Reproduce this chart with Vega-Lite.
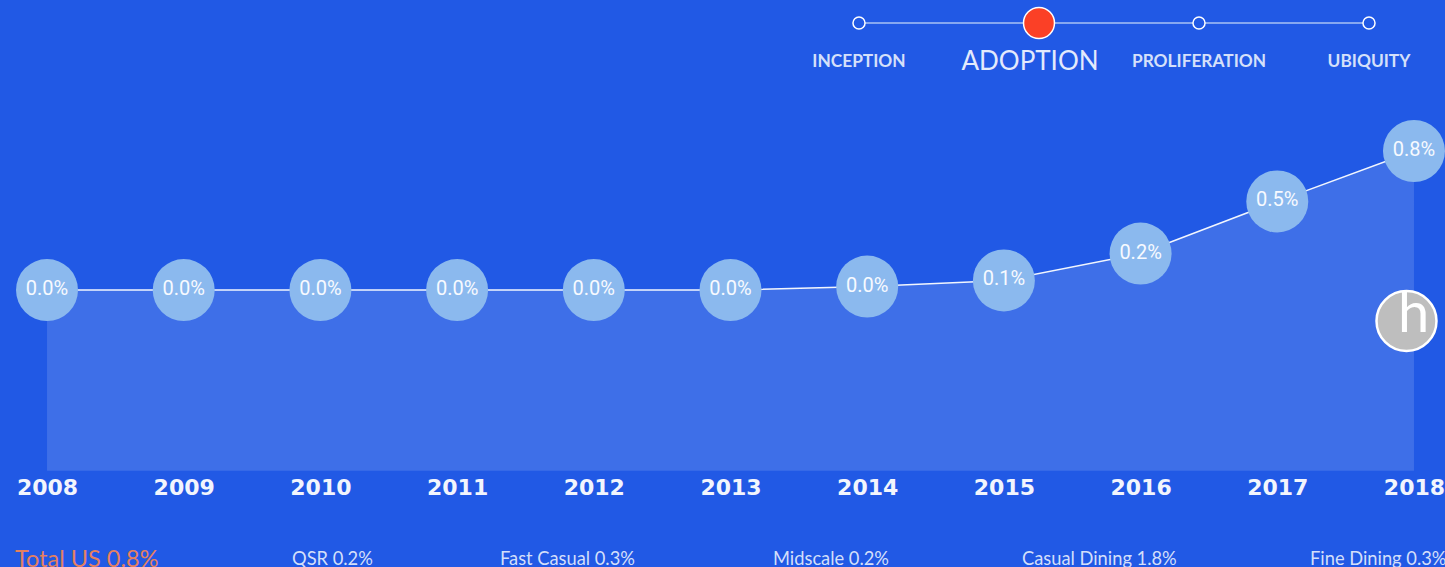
{
"$schema":"https://vega.github.io/schema/vega-lite/v6.json",
"width":1445,"height":567,"padding":0,"autosize":{"type":"none"},
"background":"#2159E5",
"config":{"view":{"stroke":null}},
"datasets":{
"series":[
{"year":2008,"share":0,"label":"0.0%"},{"year":2009,"share":0,"label":"0.0%"},{"year":2010,"share":0,"label":"0.0%"},{"year":2011,"share":0,"label":"0.0%"},{"year":2012,"share":0,"label":"0.0%"},{"year":2013,"share":0,"label":"0.0%"},{"year":2014,"share":0.02,"label":"0.0%"},{"year":2015,"share":0.055,"label":"0.1%"},{"year":2016,"share":0.21,"label":"0.2%"},{"year":2017,"share":0.51,"label":"0.5%"},{"year":2018,"share":0.8,"label":"0.8%"}],
"stages":[{"order":1,"stage":"INCEPTION","state":"other"},{"order":2,"stage":"ADOPTION","state":"current"},{"order":3,"stage":"PROLIFERATION","state":"other"},{"order":4,"stage":"UBIQUITY","state":"other"}],
"segments":[{"order":1,"segment":"Total US 0.8%","kind":"total"},{"order":2,"segment":"QSR 0.2%","kind":"part"},{"order":3,"segment":"Fast Casual 0.3%","kind":"part"},{"order":4,"segment":"Midscale 0.2%","kind":"part"},{"order":5,"segment":"Casual Dining 1.8%","kind":"part"},{"order":6,"segment":"Fine Dining 0.3%","kind":"part"}],
"logo":[{"order":0,"brand":"h"}]
},
"resolve":{"scale":{"x":"independent","y":"independent"}},
"layer":[
{"data":{"name":"series"},
 "encoding":{
  "x":{"field":"year","type":"quantitative","scale":{"domain":[2007.656,2018.227],"nice":false,"zero":false},
   "axis":{"orient":"bottom","offset":-96,"values":[2008,2009,2010,2011,2012,2013,2014,2015,2016,2017,2018],"format":"d","title":null,"domain":false,"ticks":false,"grid":false,"labelFont":"DejaVu Sans","labelFontWeight":"bold","labelFontSize":22,"labelColor":"#F2F5FD","labelPadding":6,"labelFlush":false,"labelOverlap":false,"labelBound":false}},
  "y":{"field":"share","type":"quantitative","scale":{"domain":[-1.594,1.669],"nice":false,"zero":false},"axis":null}
 },
 "layer":[
  {"mark":{"type":"area","color":"#FFFFFF","opacity":0.135},"encoding":{"y2":{"datum":-1.04}}},
  {"mark":{"type":"line","color":"#F2F6FE","strokeWidth":1.5}},
  {"mark":{"type":"point","filled":true,"color":"#8BB9EE","opacity":1,"size":3844}},
  {"mark":{"type":"text","font":"Roboto","fontSize":20,"color":"#F7FAFF","baseline":"middle","dy":-1},"encoding":{"text":{"field":"label"}}}
 ]},
{"data":{"name":"stages"},
 "encoding":{
  "x":{"field":"order","type":"quantitative","scale":{"domain":[1,2,3,4],"range":[859,1039,1199,1369],"zero":false,"nice":false},"axis":null},
  "y":{"datum":0,"type":"quantitative","scale":{"domain":[0,1],"range":[23,61],"zero":false,"nice":false},"axis":null}
 },
 "layer":[
  {"mark":{"type":"line","color":"#A9C3F4","strokeWidth":1.5}},
  {"transform":[{"filter":"datum.state==='other'"}],"mark":{"type":"point","filled":true,"fill":"#2159E5","stroke":"#FFFFFF","strokeWidth":1.5,"opacity":1,"size":145}},
  {"transform":[{"filter":"datum.state==='current'"}],"mark":{"type":"point","filled":true,"fill":"#FB4026","stroke":"#FFFFFF","strokeWidth":1.5,"opacity":1,"size":960}},
  {"transform":[{"filter":"datum.state==='other'"}],"mark":{"type":"text","font":"Lato","fontWeight":"bold","fontSize":17.3,"color":"#D5E0FA","baseline":"middle","dy":1},"encoding":{"text":{"field":"stage"},"y":{"datum":1,"type":"quantitative","scale":{"domain":[0,1],"range":[23,61],"zero":false,"nice":false},"axis":null}}},
  {"transform":[{"filter":"datum.state==='current'"}],"mark":{"type":"text","font":"Lato","fontSize":26,"color":"#E3EAFC","baseline":"middle","dx":-9,"dy":1},"encoding":{"text":{"field":"stage"},"y":{"datum":1,"type":"quantitative","scale":{"domain":[0,1],"range":[23,61],"zero":false,"nice":false},"axis":null}}}
 ]},
{"data":{"name":"segments"},
 "mark":{"type":"text","font":"Lato","align":"left","baseline":"middle"},
 "encoding":{
  "x":{"field":"order","type":"quantitative","scale":{"domain":[1,2,3,4,5,6],"range":[15,292,500,773,1022,1310],"zero":false,"nice":false},"axis":null},
  "y":{"datum":0,"type":"quantitative","scale":{"domain":[0,1],"range":[560,0],"zero":false,"nice":false},"axis":null},
  "text":{"field":"segment"},
  "size":{"field":"kind","type":"nominal","scale":{"domain":["total","part"],"range":[23.5,18.3]},"legend":null},
  "color":{"field":"kind","type":"nominal","scale":{"domain":["total","part"],"range":["#E5805F","#D3DFFA"]},"legend":null}
 }},
{"data":{"name":"logo"},
 "encoding":{
  "x":{"field":"order","type":"quantitative","scale":{"domain":[0,1],"range":[1406.5,1445],"zero":false,"nice":false},"axis":null},
  "y":{"field":"order","type":"quantitative","scale":{"domain":[0,1],"range":[321,0],"zero":false,"nice":false},"axis":null}
 },
 "layer":[
  {"mark":{"type":"point","filled":true,"fill":"#BEBEBE","stroke":"#FFFFFF","strokeWidth":2.5,"opacity":1,"size":3600}},
  {"mark":{"type":"text","font":"Lato","fontSize":56,"fontWeight":"normal","color":"#FFFFFF","baseline":"middle","dx":7,"dy":-6},"encoding":{"text":{"field":"brand"}}}
 ]}
]
}
